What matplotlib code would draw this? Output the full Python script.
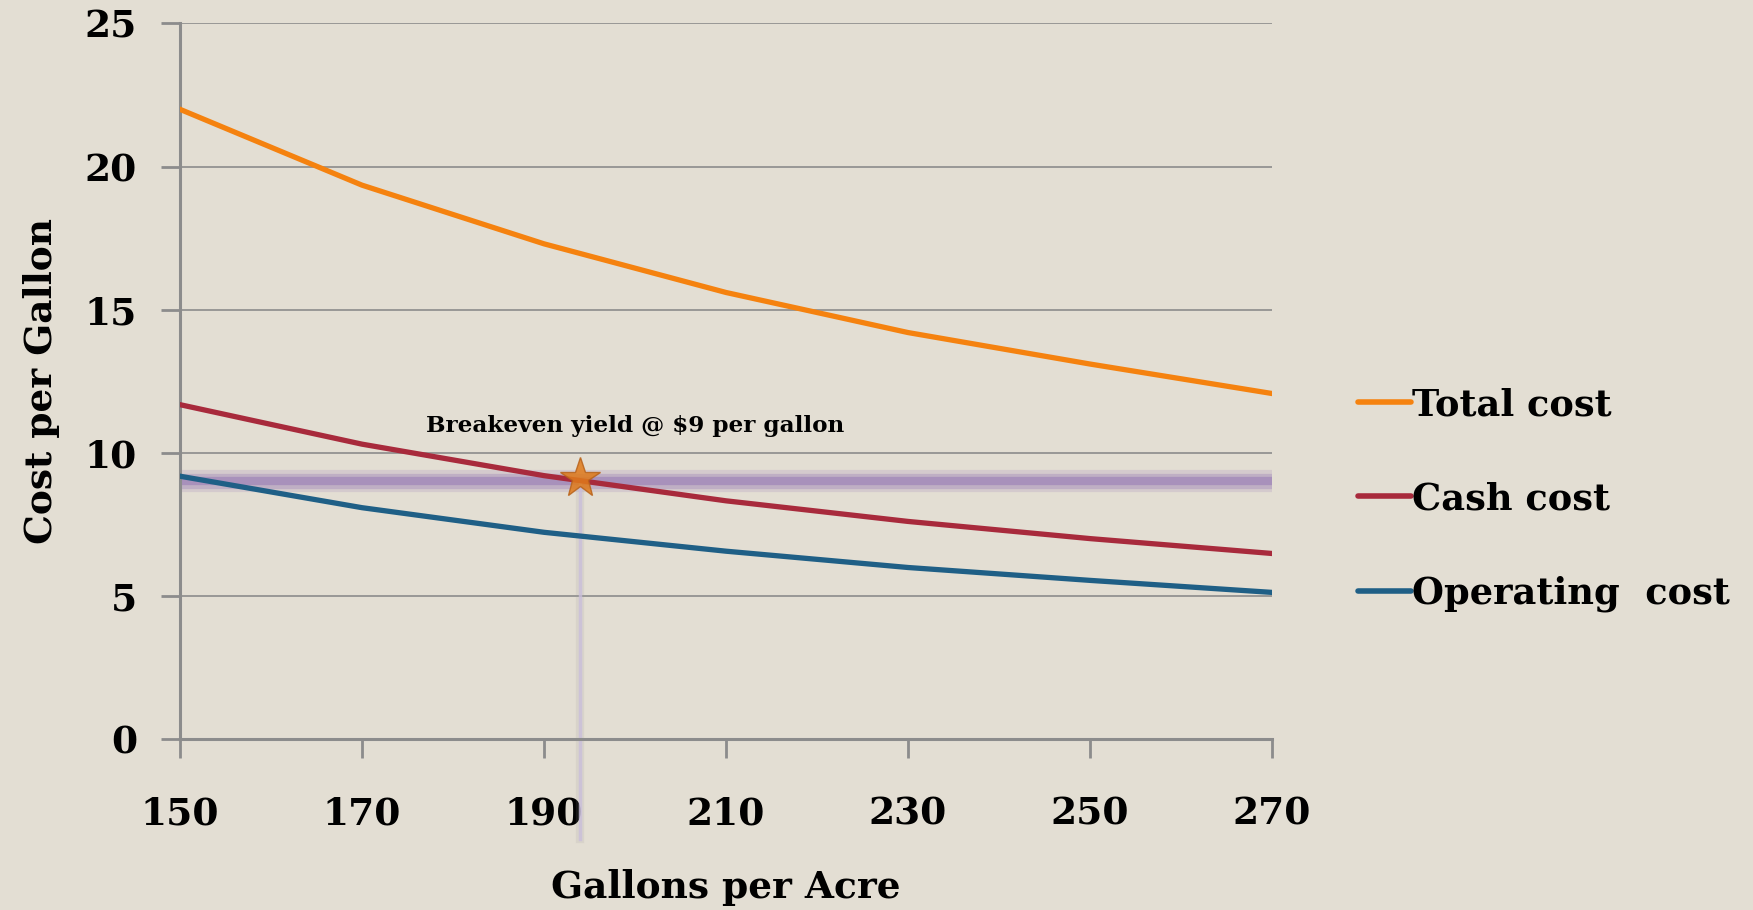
import numpy as np
import matplotlib.pyplot as plt
from matplotlib.lines import Line2D

# ===== DATA =====
gallons = [150, 170, 190, 210, 230, 250, 270]
total_cost = [22.0, 19.35, 17.3, 15.6, 14.2, 13.1, 12.07]
cash_cost = [11.68, 10.3, 9.2, 8.32, 7.6, 7.0, 6.48]
operating_cost = [9.18, 8.08, 7.22, 6.56, 5.99, 5.54, 5.12]
series_names = ["Total cost", "Cash cost", "Operating  cost"]
breakeven_price = 9
breakeven_yield = 194
y_ticks = [0, 5, 10, 15, 20, 25]

# ===== STYLE =====
bg = "#E3DED3"
grid_col = "#8C8C8C"
colors = ["#F5820F", "#A82A3C", "#1F5F86"]
plt.rcParams['font.family'] = ['DejaVu Serif']
plt.rcParams['font.weight'] = 'bold'

fig = plt.figure(figsize=(17.53, 9.10), dpi=100, facecolor=bg)
ax = fig.add_axes([0.1027, 0.188, 0.6229, 0.7862], facecolor=bg)

ax.set_xlim(150, 270)
ax.set_ylim(0, 25)
ax.set_xticks(gallons)
ax.set_yticks(y_ticks)
ax.tick_params(axis='both', direction='out', length=14, width=2, color=grid_col,
               labelsize=27)
ax.tick_params(axis='x', pad=27)
ax.tick_params(axis='y', pad=17)
for lbl in ax.get_xticklabels() + ax.get_yticklabels():
    lbl.set_fontweight('bold')

for s in ['top', 'right']:
    ax.spines[s].set_visible(False)
for s in ['left', 'bottom']:
    ax.spines[s].set_color(grid_col)
    ax.spines[s].set_linewidth(2.2)

for yv in y_ticks[1:]:
    ax.axhline(yv, color=grid_col, lw=1.2, zorder=1)

# breakeven band (soft purple glow)
for w, a in [(16, 0.2), (11, 0.35), (6, 0.6)]:
    ax.plot([150, 270], [breakeven_price] * 2, color="#9A7EB5", lw=w, alpha=a,
            solid_capstyle='butt', zorder=2)

# vertical marker line down to the axis
for w, a, c in [(6, 0.15, "#9a9a9a"), (2.5, 0.8, "#C9BEDB")]:
    ax.plot([breakeven_yield] * 2, [breakeven_price, -3.5], color=c, lw=w, alpha=a,
            clip_on=False, zorder=2)

series = [total_cost, cash_cost, operating_cost]
for vals, col, name in zip(series, colors, series_names):
    ax.plot(gallons, vals, color=col, lw=3.8, label=name, zorder=3)

ax.plot(breakeven_yield, breakeven_price + 0.1, marker='*', ms=30, color="#E07B1A",
        markeredgecolor="#B8621A", alpha=0.85, zorder=4)

ax.text(200, 10.95, "Breakeven yield @ $9 per gallon", ha='center', va='center',
        fontsize=16.7, fontweight='bold')

ax.set_xlabel("Gallons per Acre", fontsize=27, fontweight='bold', labelpad=26)
ax.set_ylabel("Cost per Gallon", fontsize=27, fontweight='bold', labelpad=18)

handles = [Line2D([0], [0], color=c, lw=4, solid_capstyle='round') for c in colors]
leg = fig.legend(handles, series_names, loc='center left', bbox_to_anchor=(0.756, 0.451),
                 frameon=False, fontsize=26.5, handlelength=1.42, handletextpad=0.05,
                 labelspacing=1.58)

fig.savefig("out.png", dpi=100, facecolor=bg)
